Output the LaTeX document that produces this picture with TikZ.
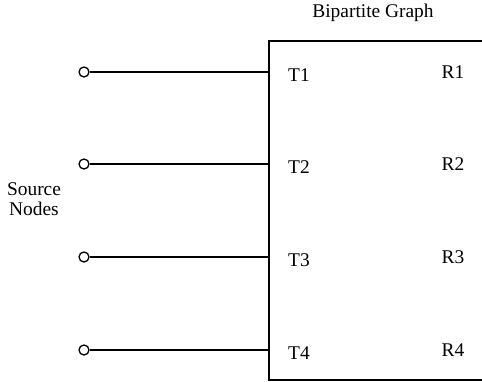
\documentclass[tikz,border=0pt]{standalone}
\usepackage{fontspec}
\setmainfont{Liberation Serif}
\begin{document}
\begin{tikzpicture}[x=1pt,y=-1pt,
  lbl/.style={inner sep=0pt, font=\fontsize{19.4}{19.5}\selectfont},
  src/.style={circle, draw, line width=1.3pt, minimum size=10pt, inner sep=0pt},
  wire/.style={line width=1.4pt}]
\useasboundingbox (0,0) rectangle (482,381);
\clip (0,0) rectangle (482,381);
\fill[white] (0,0) rectangle (482,381);
\draw[line width=1.4pt] (560,41) -- (269,41) -- (269,380) -- (560,380);
\node[lbl] (title) at (373,13) {Bipartite Graph};
\node[lbl, align=center] (srclbl) at (34,199) {Source\\Nodes};
\foreach \i/\y in {1/72,2/164,3/257,4/350}{
  \node[src] (s\i) at (84,\y) {};
  \coordinate (e\i) at (269,\y);
  \draw[wire] (s\i) -- (e\i);
  \node[lbl] (t\i) at (299,\y+3) {T\i};
  \node[lbl] (r\i) at (453,\y) {R\i};
}
\end{tikzpicture}
\end{document}
